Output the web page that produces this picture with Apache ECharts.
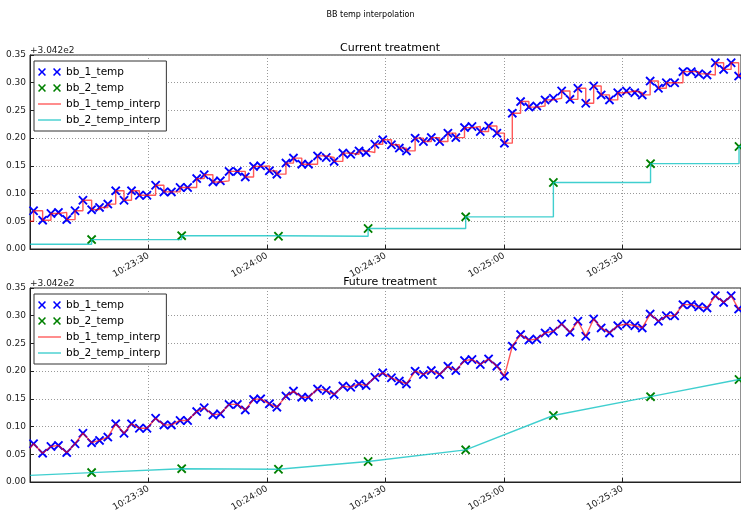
<!DOCTYPE html>
<html>
<head>
<meta charset="utf-8">
<title>BB temp interpolation</title>
<script src="https://cdn.jsdelivr.net/npm/echarts@6/dist/echarts.min.js"></script>
<style>
  html, body { margin: 0; padding: 0; background: #fff; }
  #chart { width: 741px; height: 514px; }
</style>
</head>
<body>
<div id="chart"></div>
<script>
// seconds after 10:23:00
const bb1Time = [0.9, 3.2, 5.3, 7.2, 9.3, 11.4, 13.4, 15.6, 17.6, 19.7,
  21.7, 23.8, 25.7, 27.7, 29.6, 31.8, 33.9, 35.8, 38.0, 39.9,
  42.2, 44.1, 46.3, 48.2, 50.4, 52.5, 54.5, 56.6, 58.4, 60.6,
  62.5, 64.8, 66.7, 68.8, 70.5, 72.8, 75.0, 77.0, 79.2, 81.2,
  83.3, 85.1, 87.3, 89.3, 91.5, 93.5, 95.3, 97.5, 99.6, 101.6,
  103.7, 105.8, 107.8, 110.0, 111.9, 114.0, 116.1, 118.2, 120.1, 122.1,
  124.2, 126.3, 128.3, 130.4, 132.5, 134.6, 136.7, 138.7, 140.7, 142.7,
  144.6, 146.7, 148.8, 151.0, 153.1, 155.0, 157.0, 159.1, 161.1, 163.2,
  165.3, 167.4, 169.3, 171.4, 173.5, 175.6, 177.5, 179.4];
// offsets from 304.2
const bb1Temp = [0.069, 0.052, 0.064, 0.066, 0.053, 0.069, 0.088, 0.071, 0.075, 0.081,
  0.105, 0.088, 0.105, 0.097, 0.097, 0.115, 0.103, 0.103, 0.111, 0.111,
  0.127, 0.134, 0.121, 0.123, 0.140, 0.140, 0.130, 0.149, 0.150, 0.141,
  0.135, 0.155, 0.164, 0.153, 0.153, 0.168, 0.165, 0.158, 0.173, 0.171,
  0.177, 0.174, 0.189, 0.197, 0.188, 0.182, 0.177, 0.200, 0.194, 0.201,
  0.194, 0.209, 0.201, 0.219, 0.221, 0.212, 0.222, 0.209, 0.191, 0.245,
  0.266, 0.256, 0.258, 0.269, 0.272, 0.285, 0.270, 0.290, 0.263, 0.294,
  0.278, 0.269, 0.282, 0.285, 0.282, 0.278, 0.303, 0.290, 0.300, 0.300,
  0.320, 0.320, 0.316, 0.314, 0.336, 0.324, 0.336, 0.312];

const bb2Time = [15.6, 38.4, 62.9, 85.6, 110.3, 132.5, 157.1, 179.5];
const bb2Temp = [0.017, 0.024, 0.023, 0.037, 0.058, 0.120, 0.154, 0.185];

// interpolated value at the left edge (extrapolated) for each treatment
const bb1StartCurrent = 0.050;
const bb2StartCurrent = 0.0085;
const bb1StartFuture = 0.061;
const bb2StartFuture = 0.012;

const xTicks = ['10:23:30', '10:24:00', '10:24:30', '10:25:00', '10:25:30'];
const yOffsetLabel = '+3.042e2';

const FONT = 'DejaVu Sans';
const X_MARK = 'path://M0,1.4L1.4,0L5,3.6L8.6,0L10,1.4L6.4,5L10,8.6L8.6,10L5,6.4L1.4,10L0,8.6L3.6,5Z';
const X_PAIR = 'path://M0,1.4L1.4,0L5,3.6L8.6,0L10,1.4L6.4,5L10,8.6L8.6,10L5,6.4L1.4,10L0,8.6L3.6,5Z' +
  'M18.75,1.4L20.15,0L23.75,3.6L27.35,0L28.75,1.4L25.15,5L28.75,8.6L27.35,10L23.75,6.4L20.15,10L18.75,8.6L22.35,5Z';
const LINE_BAR = 'path://M0,0L20,0L20,1.3L0,1.3Z';

const pairs = (ts, vs) => ts.map((t, i) => [t, vs[i]]);
const withEnds = (start, ts, vs) => [[0, start]].concat(pairs(ts, vs), [[180, vs[vs.length - 1]]]);

function xAxisFor(gridIndex) {
  return {
    type: 'value', gridIndex, min: 0, max: 180, interval: 30,
    axisLine: { lineStyle: { color: '#222' } },
    axisTick: { inside: true, length: 4, lineStyle: { color: '#222' } },
    axisLabel: {
      rotate: 30, margin: 6, fontSize: 9, fontFamily: FONT, color: '#222',
      showMinLabel: false, showMaxLabel: false,
      formatter: v => xTicks[Math.round(v / 30) - 1] || ''
    },
    splitLine: { show: true, lineStyle: { type: [1, 2], color: '#999', width: 1 } }
  };
}

function yAxisFor(gridIndex) {
  return {
    type: 'value', gridIndex, min: 0, max: 0.35, interval: 0.05,
    axisLine: { show: true, lineStyle: { color: '#222' } },
    axisTick: { show: true, inside: true, length: 4, lineStyle: { color: '#222' } },
    axisLabel: { margin: 4, fontSize: 9, fontFamily: FONT, color: '#222', formatter: v => v.toFixed(2) },
    splitLine: { show: true, lineStyle: { type: [1, 2], color: '#999', width: 1 } }
  };
}

function seriesFor(idx, stepped, bb1Start, bb2Start) {
  return [
    {
      name: 'bb_1_temp', type: 'scatter', xAxisIndex: idx, yAxisIndex: idx,
      symbol: X_MARK, symbolSize: 9.5, itemStyle: { color: '#0000ff', opacity: 1 },
      data: pairs(bb1Time, bb1Temp)
    },
    {
      name: 'bb_2_temp', type: 'scatter', xAxisIndex: idx, yAxisIndex: idx,
      symbol: X_MARK, symbolSize: 9.5, itemStyle: { color: '#008000', opacity: 1 },
      data: pairs(bb2Time, bb2Temp)
    },
    {
      name: 'bb_1_temp_interp', type: 'line', xAxisIndex: idx, yAxisIndex: idx,
      step: stepped ? 'end' : false, symbol: 'none', showSymbol: false,
      itemStyle: { color: 'rgba(255,0,0,0.6)' },
      lineStyle: { color: 'rgba(255,0,0,0.65)', width: 1.4 },
      data: withEnds(bb1Start, bb1Time, bb1Temp)
    },
    {
      name: 'bb_2_temp_interp', type: 'line', xAxisIndex: idx, yAxisIndex: idx,
      step: stepped ? 'end' : false, symbol: 'none', showSymbol: false,
      itemStyle: { color: 'rgba(0,191,191,0.7)' },
      lineStyle: { color: 'rgba(0,191,191,0.75)', width: 1.4 },
      data: withEnds(bb2Start, bb2Time, bb2Temp)
    }
  ];
}

function legendFor(top) {
  return {
    orient: 'vertical', left: 34, top,
    backgroundColor: '#fff', borderColor: '#333', borderWidth: 1, borderRadius: 0,
    padding: [3, 6, 3, 4], itemGap: 0, itemWidth: 23, itemHeight: 8,
    symbolKeepAspect: true,
    textStyle: { fontSize: 10.5, fontFamily: FONT, color: '#000', lineHeight: 16 },
    data: [
      { name: 'bb_1_temp', icon: X_PAIR },
      { name: 'bb_2_temp', icon: X_PAIR },
      { name: 'bb_1_temp_interp', icon: LINE_BAR },
      { name: 'bb_2_temp_interp', icon: LINE_BAR }
    ],
    z: 10
  };
}

function offsetText(top) {
  return {
    type: 'text', left: 30, top,
    style: { text: yOffsetLabel, fontSize: 9, fontFamily: FONT, fill: '#222' }
  };
}

const chart = echarts.init(document.getElementById('chart'));

chart.setOption({
  animation: false,
  backgroundColor: '#fff',
  title: [
    { text: 'BB temp interpolation', left: 'center', top: 6,
      textStyle: { fontSize: 8, fontWeight: 'normal', fontFamily: FONT, color: '#000' } },
    { text: 'Current treatment', left: 385, top: 38, textAlign: 'center',
      textStyle: { fontSize: 11, fontWeight: 'normal', fontFamily: FONT, color: '#000' } },
    { text: 'Future treatment', left: 385, top: 272, textAlign: 'center',
      textStyle: { fontSize: 11, fontWeight: 'normal', fontFamily: FONT, color: '#000' } }
  ],
  graphic: [offsetText(46.5), offsetText(279.5)],
  grid: [
    { left: 30, right: -1, top: 55, height: 194, show: true, borderColor: '#222', borderWidth: 1 },
    { left: 30, right: -1, top: 288, height: 194, show: true, borderColor: '#222', borderWidth: 1 }
  ],
  legend: [legendFor(61), legendFor(294)],
  xAxis: [xAxisFor(0), xAxisFor(1)],
  yAxis: [yAxisFor(0), yAxisFor(1)],
  series: seriesFor(0, true, bb1StartCurrent, bb2StartCurrent)
    .concat(seriesFor(1, false, bb1StartFuture, bb2StartFuture))
});

window.addEventListener('resize', () => chart.resize());
</script>
</body>
</html>
